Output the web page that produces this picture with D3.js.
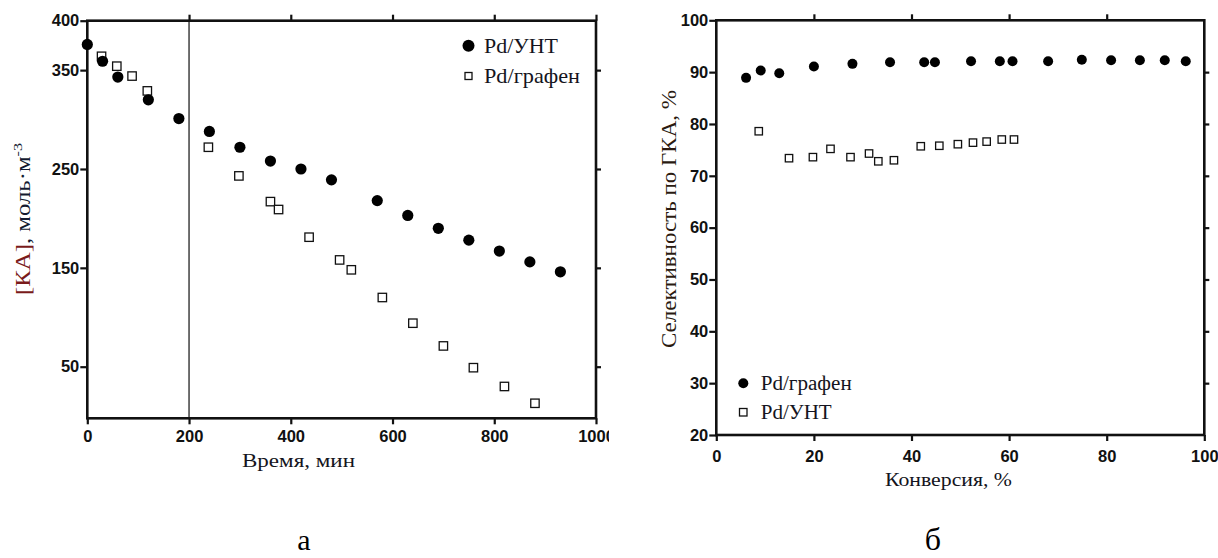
<!DOCTYPE html>
<html><head><meta charset="utf-8">
<script src="https://cdn.jsdelivr.net/npm/d3@7"></script>
<style>
html,body{margin:0;padding:0;background:#fff;}
svg{display:block;}
</style></head>
<body>
<svg id="chart" width="1218" height="558"></svg>
<script>
// ---- Panel a: [KA] vs time ----
const timeUNT = [0,30,60,120,180,240,300,360,420,480,570,630,690,750,810,870,930];
const kaUNT   = [376,359,343,320,301,288,272,258,250,239,218,203,190,178,167,156,146];
const timeGraph = [28,58,88,118,238,298,360,376,436,496,519,580,640,700,759,820,880];
const kaGraph   = [364,354,344,329,272,243,217,209,181,158,148,120,94,71,49,30,13];
const aXTicks = [0,200,400,600,800,1000];
const aYTicks = [50,150,250,350,400];
const aYRightTicks = [50,150,250,350];
const aTopTicks = [200,400,600,800,1000];
const aMarkerLine = 200;

// ---- Panel b: selectivity vs conversion ----
const convGraphene = [6.1,9.1,12.9,20,27.9,35.6,42.6,44.8,52.2,58.1,60.7,68,74.9,80.9,86.8,91.9,96.2];
const selGraphene  = [88.9,90.3,89.8,91.1,91.6,91.9,91.9,91.9,92.1,92.1,92.1,92.1,92.4,92.3,92.3,92.3,92.1];
const convUNT = [8.7,14.9,19.8,23.4,27.5,31.3,33.2,36.4,41.9,45.7,49.5,52.6,55.4,58.5,61];
const selUNT  = [78.6,73.4,73.6,75.2,73.6,74.3,72.8,73.0,75.7,75.8,76.1,76.4,76.6,77.0,77.0];
const bXTicks = [0,20,40,60,80,100];
const bYTicks = [20,30,40,50,60,70,80,90,100];
const bYRightTicks = [30,40,50,60,70,80,90];
const bTopTicks = [20,40,60,80];

const SERIF = '"Liberation Serif","Times New Roman","DejaVu Serif",serif';
const SANS = '"Liberation Sans",Arial,"DejaVu Sans",sans-serif';

const svg = d3.select("#chart");
svg.append("defs").append("clipPath").attr("id","clipA")
  .append("rect").attr("x",0).attr("y",0).attr("width",609).attr("height",558);

function styleAxis(g){
  g.select(".domain").remove();
  g.selectAll(".tick line").style("stroke","#111").style("stroke-width","2.2px");
  g.selectAll(".tick text").style("font-family",SANS).style("font-weight","700")
    .style("font-size","16.5px").style("fill","#111");
}
function serifText(g, x, y, size, str, len){
  const t = g.append("text").attr("x",x).attr("y",y)
    .style("font-family",SERIF).style("font-size",size+"px").style("fill","#141420").text(str);
  if(len){ t.attr("textLength",len).attr("lengthAdjust","spacingAndGlyphs"); }
  return t;
}

// ===== Panel a =====
const gA = svg.append("g").attr("clip-path","url(#clipA)");
const xA = d3.scaleLinear().domain([0,1000]).range([87.3,596]);
const yA = d3.scaleLinear().domain([-2.2,400]).range([418.3,20.7]);

gA.append("g").attr("transform",`translate(0,${yA.range()[0]})`)
  .call(d3.axisBottom(xA).tickValues(aXTicks).tickSize(6).tickPadding(6).tickFormat(d3.format("d")))
  .call(styleAxis);
gA.append("g").attr("transform",`translate(0,${yA.range()[1]})`)
  .call(d3.axisTop(xA).tickValues(aTopTicks).tickSize(6).tickFormat(""))
  .call(styleAxis);
gA.append("g").attr("transform",`translate(${xA.range()[0]},0)`)
  .call(d3.axisLeft(yA).tickValues(aYTicks).tickSize(7).tickPadding(1).tickFormat(d3.format("d")))
  .call(styleAxis);
gA.append("g").attr("transform",`translate(${xA.range()[1]},0)`)
  .call(d3.axisRight(yA).tickValues(aYRightTicks).tickSize(5).tickFormat(""))
  .call(styleAxis);

gA.append("line")
  .attr("x1",xA(aMarkerLine)).attr("x2",xA(aMarkerLine))
  .attr("y1",yA.range()[1]).attr("y2",yA.range()[0])
  .attr("stroke","#222").attr("stroke-width",1.3);

gA.append("rect")
  .attr("x",xA.range()[0]).attr("y",yA.range()[1])
  .attr("width",xA.range()[1]-xA.range()[0]).attr("height",yA.range()[0]-yA.range()[1])
  .attr("fill","none").attr("stroke","#111").attr("stroke-width",2.6);

gA.selectAll("rect.sqA").data(timeGraph).enter().append("rect").attr("class","sqA")
  .attr("x",d=>xA(d)-4.2).attr("y",(d,i)=>yA(kaGraph[i])-4.2)
  .attr("width",8.4).attr("height",8.4)
  .attr("fill","#fff").attr("stroke","#111").attr("stroke-width",1.3);
gA.selectAll("circle.cA").data(timeUNT).enter().append("circle").attr("class","cA")
  .attr("cx",d=>xA(d)).attr("cy",(d,i)=>yA(kaUNT[i])).attr("r",5.6).attr("fill","#000");

// legend a
gA.append("circle").attr("cx",468.5).attr("cy",45.7).attr("r",6).attr("fill","#000");
serifText(gA,484,53,21,"Pd/УНТ",74);
gA.append("rect").attr("x",465).attr("y",72.5).attr("width",7).attr("height",7)
  .attr("fill","#fff").attr("stroke","#111").attr("stroke-width",1.3);
serifText(gA,484,83,21,"Pd/графен",96);

// axis titles a
serifText(gA,242,467,18,"Время, мин",113);
const yLabA = gA.append("text")
  .attr("transform","translate(30,295) rotate(-90)")
  .attr("textLength",152).attr("lengthAdjust","spacingAndGlyphs")
  .style("font-family",SERIF).style("font-size","20px").style("fill","#141a30");
yLabA.append("tspan").style("fill","#7a1a1a").text("[КА]");
yLabA.append("tspan").text(", моль·м");
yLabA.append("tspan").attr("dy",-8).style("font-size","13px").text("-3");

// ===== Panel b =====
const gB = svg.append("g");
const xB = d3.scaleLinear().domain([0,100]).range([716.3,1204.3]);
const yB = d3.scaleLinear().domain([20,100]).range([435,20.3]);

gB.append("g").attr("transform",`translate(0,${yB.range()[0]})`)
  .call(d3.axisBottom(xB).tickValues(bXTicks).tickSize(6).tickPadding(9).tickFormat(d3.format("d")))
  .call(styleAxis);
gB.append("g").attr("transform",`translate(0,${yB.range()[1]})`)
  .call(d3.axisTop(xB).tickValues(bTopTicks).tickSize(6).tickFormat(""))
  .call(styleAxis);
gB.append("g").attr("transform",`translate(${xB.range()[0]},0)`)
  .call(d3.axisLeft(yB).tickValues(bYTicks).tickSize(7).tickPadding(1).tickFormat(d3.format("d")))
  .call(styleAxis);
gB.append("g").attr("transform",`translate(${xB.range()[1]},0)`)
  .call(d3.axisRight(yB).tickValues(bYRightTicks).tickSize(5).tickFormat(""))
  .call(styleAxis);

gB.append("rect")
  .attr("x",xB.range()[0]).attr("y",yB.range()[1])
  .attr("width",xB.range()[1]-xB.range()[0]).attr("height",yB.range()[0]-yB.range()[1])
  .attr("fill","none").attr("stroke","#111").attr("stroke-width",2.6);

gB.selectAll("rect.sqB").data(convUNT).enter().append("rect").attr("class","sqB")
  .attr("x",d=>xB(d)-3.7).attr("y",(d,i)=>yB(selUNT[i])-3.7)
  .attr("width",7.4).attr("height",7.4)
  .attr("fill","#fff").attr("stroke","#111").attr("stroke-width",1.3);
gB.selectAll("circle.cB").data(convGraphene).enter().append("circle").attr("class","cB")
  .attr("cx",d=>xB(d)).attr("cy",(d,i)=>yB(selGraphene[i])).attr("r",5).attr("fill","#000");

// legend b
gB.append("circle").attr("cx",743.3).attr("cy",383.3).attr("r",5).attr("fill","#000");
serifText(gB,760.7,390,20,"Pd/графен",91);
gB.append("rect").attr("x",739.5).attr("y",408.5).attr("width",7.5).attr("height",7.5)
  .attr("fill","#fff").attr("stroke","#111").attr("stroke-width",1.3);
serifText(gB,760.7,419,20,"Pd/УНТ",71);

serifText(gB,885,486,19,"Конверсия, %",127);
gB.append("text")
  .attr("transform","translate(676,348) rotate(-90)")
  .attr("textLength",258).attr("lengthAdjust","spacingAndGlyphs")
  .style("font-family",SERIF).style("font-size","20px").style("fill","#2a1a10")
  .text("Селективность по ГКА, %");

// panel letters
svg.append("text").attr("x",304).attr("y",550).attr("text-anchor","middle")
  .style("font-family",SERIF).style("font-size","30px").style("fill","#000").text("а");
svg.append("text").attr("x",933).attr("y",550).attr("text-anchor","middle")
  .style("font-family",SERIF).style("font-size","32px").style("fill","#000").text("б");
</script>
</body></html>
